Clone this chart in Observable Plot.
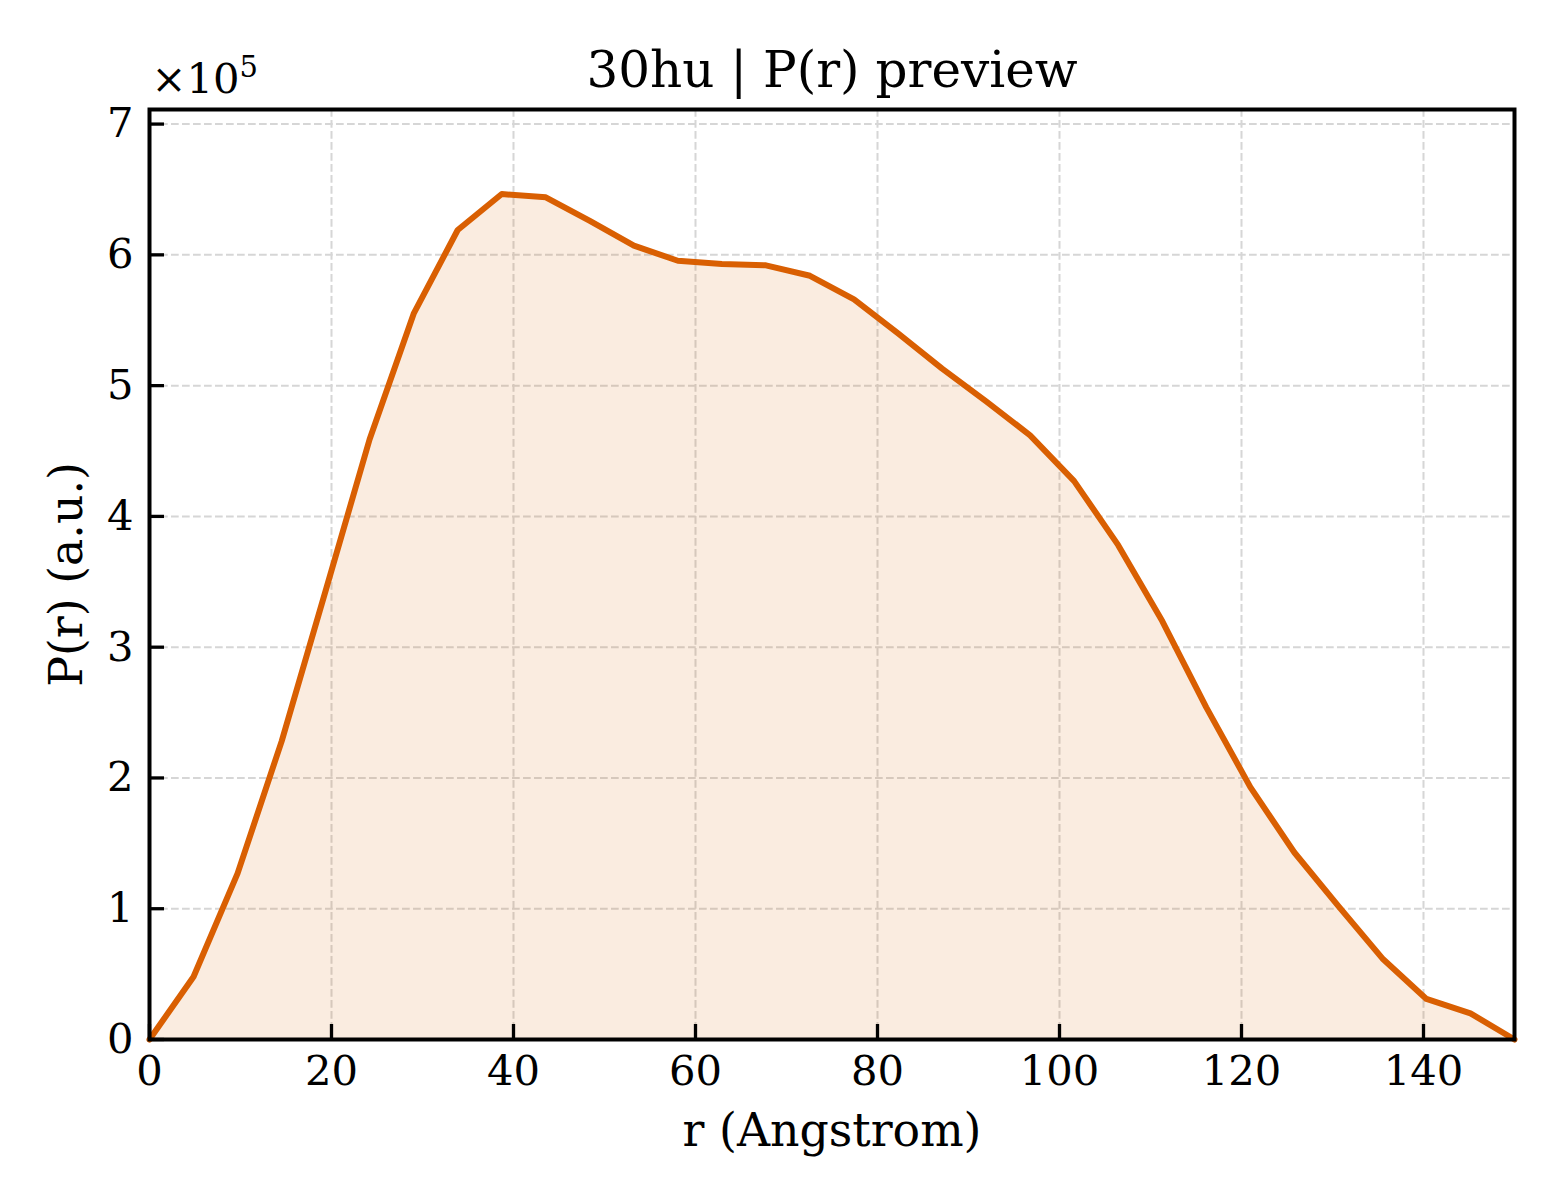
<!DOCTYPE html>
<html>
<head>
<meta charset="utf-8">
<script src="https://cdn.jsdelivr.net/npm/d3@7"></script>
<script src="https://cdn.jsdelivr.net/npm/@observablehq/plot@0.6"></script>
<style>
  html, body { margin: 0; padding: 0; background: white; }
  #chart { width: 1560px; height: 1200px; }
</style>
</head>
<body>
<div id="chart"></div>
<script>
const titleText = "30hu | P(r) preview";
const xLabel = "r (Angstrom)";
const yLabel = "P(r) (a.u.)";
const offsetBase = "×10";
const offsetExp = "5";

const rValues = [0, 4.84, 9.68, 14.52, 19.35, 24.19, 29.03, 33.87, 38.71, 43.55, 48.39, 53.23,
  58.06, 62.90, 67.74, 72.58, 77.42, 82.26, 87.10, 91.94, 96.77, 101.61, 106.45, 111.29,
  116.13, 120.97, 125.81, 130.65, 135.48, 140.32, 145.16, 150];
const prValues = [0, 48000, 127000, 228000, 343000, 459000, 555000, 619000, 646500, 644000, 626000, 607000,
  595500, 593000, 592000, 584000, 566000, 540000, 513000, 488000, 462000, 427000, 378000, 320000,
  254000, 193000, 143000, 102000, 62000, 31000, 20000, 0];

const xTicks = [0, 20, 40, 60, 80, 100, 120, 140];
const yTicks = [0, 100000, 200000, 300000, 400000, 500000, 600000, 700000];
const xDomain = [0, 150];
const yDomain = [0, 711150];

const data = rValues.map((r, i) => ({r, p: prValues[i]}));

const lineColor = "#D95F02";
const gridColor = "#d6d6d6";

const chart = Plot.plot({
  width: 1560,
  height: 1200,
  marginLeft: 149,
  marginRight: 46,
  marginTop: 109,
  marginBottom: 161,
  style: {fontFamily: "'DejaVu Serif', serif", fontSize: "41.7px", background: "white", color: "black"},
  x: {domain: xDomain, axis: null},
  y: {domain: yDomain, axis: null},
  marks: [
    Plot.gridX(xTicks, {stroke: gridColor, strokeOpacity: 1, strokeWidth: 2, strokeDasharray: "7.7,3.3"}),
    Plot.gridY(yTicks, {stroke: gridColor, strokeOpacity: 1, strokeWidth: 2, strokeDasharray: "7.7,3.3"}),
    Plot.areaY(data, {x: "r", y: "p", fill: lineColor, fillOpacity: 0.12}),
    Plot.lineY(data, {x: "r", y: "p", stroke: lineColor, strokeWidth: 6, strokeLinejoin: "round"}),
    Plot.axisX(xTicks, {anchor: "bottom", tickSize: -15, tickPadding: 31, strokeWidth: 3.3, label: null, fontSize: 41.7}),
    Plot.axisY(yTicks, {anchor: "left", tickSize: -15, tickPadding: 31, strokeWidth: 3.3, label: null, fontSize: 41.7, tickFormat: d => String(d / 100000)}),
    Plot.frame({stroke: "black", strokeWidth: 4}),
    Plot.text([titleText], {frameAnchor: "top", lineAnchor: "middle", textAnchor: "middle", dy: -39, fontSize: 50, text: d => d}),
    Plot.text([offsetBase], {frameAnchor: "top-left", lineAnchor: "middle", textAnchor: "start", dx: 2, dy: -30, fontSize: 41.7, text: d => d}),
    Plot.text([offsetExp], {frameAnchor: "top-left", lineAnchor: "middle", textAnchor: "start", dx: 90, dy: -42, fontSize: 29, text: d => d}),
    Plot.text([xLabel], {frameAnchor: "bottom", lineAnchor: "middle", textAnchor: "middle", dy: 92, fontSize: 45.8, text: d => d}),
    Plot.text([yLabel], {frameAnchor: "left", lineAnchor: "middle", textAnchor: "middle", dx: -82, rotate: -90, fontSize: 45.8, text: d => d})
  ]
});
document.getElementById("chart").appendChild(chart);
</script>
</body>
</html>
